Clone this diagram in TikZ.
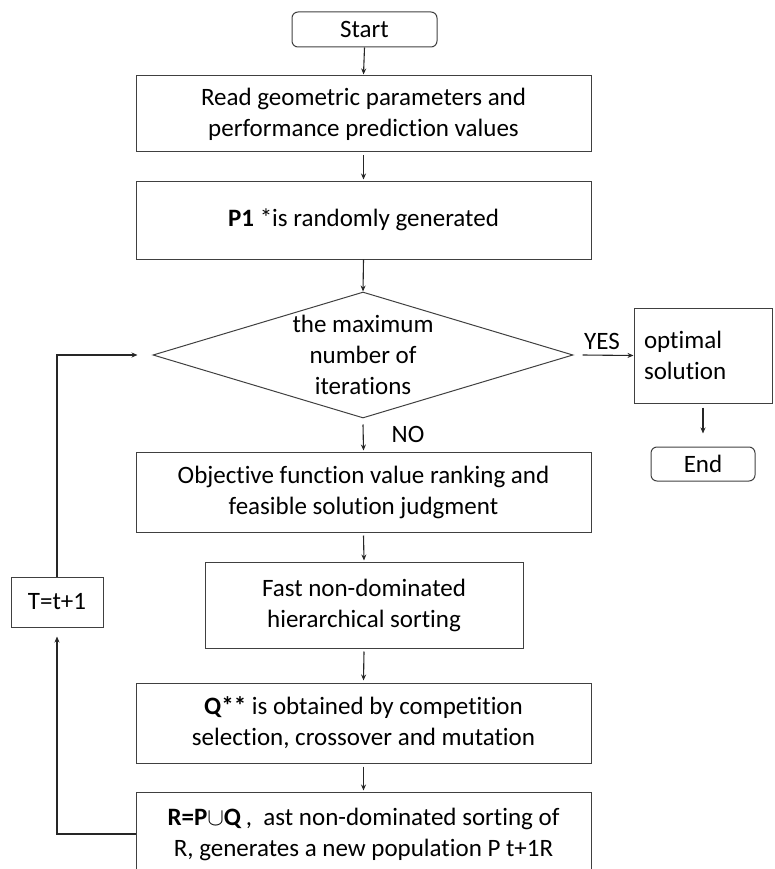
\documentclass[tikz,border=0pt]{standalone}
\usepackage{fontspec}
\setmainfont[Ligatures={NoCommon}]{Carlito}
\usetikzlibrary{shapes.geometric,arrows.meta,calc}
\begin{document}
\begin{tikzpicture}[x=1pt,y=-1pt,
  every node/.style={font=\fontsize{25}{31}\selectfont, text=black},
  boxstyle/.style={draw=black!75, line width=1pt, rectangle, inner sep=0pt, align=center},
  termstyle/.style={boxstyle, rounded corners=6pt},
  arr/.style={draw=black!85, line width=1.1pt, -{Stealth[length=6pt,width=5pt]}}]
\useasboundingbox (0,0) rectangle (774,869);
\node[termstyle, minimum width=145pt, minimum height=35pt] (start) at (364.5,29.5) {Start};
\node[boxstyle, minimum width=455pt, minimum height=76pt] (b1) at (363.5,114) {Read geometric parameters and\\performance prediction values};
\node[boxstyle, minimum width=455pt, minimum height=78pt] (b2) at (363.5,220) {\textbf{P1} *is randomly generated};
\node[diamond, draw=black!75, line width=1pt, minimum width=420pt, minimum height=126pt, inner sep=0pt] (dia) at (363,355) {};
\node[align=center] (diat) at (dia.center) {the maximum\\number of\\iterations};
\node[boxstyle, minimum width=138pt, minimum height=95pt, text width=118pt, align=left] (opt) at (703,355.5) {optimal\\solution};
\node[termstyle, minimum width=104pt, minimum height=34pt] (end) at (703,464) {End};
\node[boxstyle, minimum width=455pt, minimum height=80pt] (b3) at (363.5,492) {Objective function value ranking and\\feasible solution judgment};
\node[boxstyle, minimum width=318pt, minimum height=86pt] (b4) at (364,605) {Fast non-dominated\\hierarchical sorting};
\node[boxstyle, minimum width=455pt, minimum height=80pt] (b5) at (363.5,723) {\textbf{Q**} is obtained by competition\\selection, crossover and mutation};
\node[boxstyle, minimum width=455pt, minimum height=84pt] (b6) at (363.5,834) {\textbf{R=P}\ensuremath{\cup}\textbf{Q}\,,\ \ ast non-dominated sorting of\\R, generates a new population P t+1R};
\node[boxstyle, minimum width=92pt, minimum height=50pt] (tb) at (57,602) {T=t+1};
\node (yes) at (602,341) {YES};
\node (no) at (408,434) {NO};
\draw[arr] (start.south) -- ([yshift=1pt]b1.north);
\draw[arr] ([yshift=-3pt]b1.south) -- ([yshift=1pt]b2.north);
\draw[arr] (b2.south) -- (dia.north);
\draw[arr] ([xshift=9pt]dia.east) -- (opt.west);
\draw[arr] ([yshift=-4pt]opt.south) -- ([yshift=13pt]end.north);
\draw[arr] ([yshift=-6pt]dia.south) -- ([yshift=1pt]b3.north);
\draw[arr] ([yshift=-3pt]b3.south) -- ([yshift=1pt]b4.north);
\draw[arr] ([yshift=-3pt]b4.south) -- ([yshift=2pt]b5.north);
\draw[arr] ([yshift=-3pt]b5.south) -- ([yshift=1pt]b6.north);
\draw[arr] (b6.west) -| ([yshift=-9pt]tb.south);
\draw[arr] (tb.north) |- ([xshift=-15pt]dia.west);
\end{tikzpicture}
\end{document}
